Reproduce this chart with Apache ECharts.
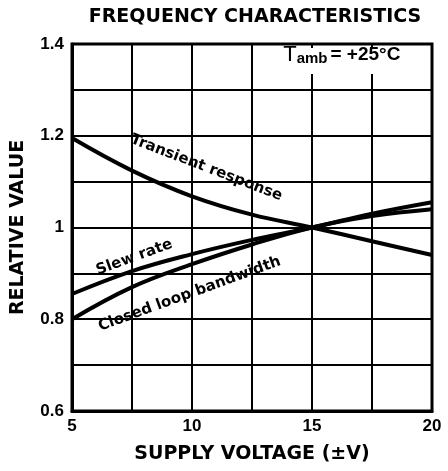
<!DOCTYPE html>
<html><head><meta charset="utf-8">
<script src="https://cdn.jsdelivr.net/npm/echarts@6/dist/echarts.min.js"></script>
<style>html,body{margin:0;padding:0;background:#fff}#c{width:448px;height:471px}</style>
</head><body><div id="c"></div>
<script>
var supplyVoltage = [5, 7.5, 10, 12.5, 15, 17.5, 20];
var transientResponse = [1.195, 1.124, 1.068, 1.028, 1.0, 0.970, 0.940];
var slewRate = [0.855, 0.905, 0.942, 0.973, 1.0, 1.030, 1.055];
var closedLoopBandwidth = [0.800, 0.870, 0.920, 0.963, 1.0, 1.025, 1.040];
var yTicks = [0.6, 0.8, 1.0, 1.2, 1.4];
var xTicks = [5, 10, 15, 20];

function pairs(ys){ return supplyVoltage.map(function(x,i){return [x, ys[i]];}); }
var FF = '"Liberation Sans", Arial, sans-serif';
var FW = '"DejaVu Sans", sans-serif';
var chart = echarts.init(document.getElementById('c'), null, {renderer:'canvas'});
function lineSeries(name, ys){
  return {name:name, type:'line', smooth:0.4, showSymbol:false, data:pairs(ys),
    lineStyle:{color:'#000', width:4}, z:5};
}
chart.setOption({
  animation:false,
  backgroundColor:'#fff',
  title:{text:'FREQUENCY CHARACTERISTICS', left:250, top:3, textAlign:'center',
    textStyle:{fontFamily:FW, fontWeight:'bold', fontSize:19, color:'#000'}},
  grid:{left:72, right:16, top:44, bottom:60, show:true, borderColor:'#000', borderWidth:3, z:20},
  xAxis:{type:'value', min:xTicks[0], max:xTicks[xTicks.length-1], interval:5,
    name:'SUPPLY VOLTAGE (\u00b1V)', nameLocation:'middle', nameGap:34,
    nameTextStyle:{fontFamily:FW, fontWeight:'bold', fontSize:19, color:'#000'},
    axisLine:{lineStyle:{color:'#000', width:3}}, axisTick:{show:false},
    axisLabel:{fontFamily:FF, fontWeight:'bold', fontSize:17, color:'#000', margin:7},
    splitLine:{show:true, lineStyle:{color:'#000', width:2}},
    minorTick:{show:false, splitNumber:2},
    minorSplitLine:{show:true, lineStyle:{color:'#000', width:2}}},
  yAxis:{type:'value', min:yTicks[0], max:yTicks[yTicks.length-1], interval:0.2,
    name:'RELATIVE VALUE', nameLocation:'middle', nameGap:44,
    nameTextStyle:{fontFamily:FW, fontWeight:'bold', fontSize:19, color:'#000'},
    axisLine:{lineStyle:{color:'#000', width:3}}, axisTick:{show:false},
    axisLabel:{fontFamily:FF, fontWeight:'bold', fontSize:17, color:'#000', margin:8,
      formatter:function(v){return String(+v.toFixed(1));}},
    splitLine:{show:true, lineStyle:{color:'#000', width:2}},
    minorTick:{show:false, splitNumber:2},
    minorSplitLine:{show:true, lineStyle:{color:'#000', width:2}}},
  series:[
    lineSeries('Transient response', transientResponse),
    lineSeries('Slew rate', slewRate),
    lineSeries('Closed loop bandwidth', closedLoopBandwidth)
  ]
});
function px(x,y){ return chart.convertToPixel({gridIndex:0}, [x,y]); }
var labelFont = 'bold 15px ' + FW;
var labels = [
  {text:'Transient response', at:[10.6, 1.13], rot:-21},
  {text:'Slew rate', at:[7.6, 0.935], rot:20},
  {text:'Closed loop bandwidth', at:[9.9, 0.855], rot:20}
];
var g = labels.map(function(l){
  var p = px(l.at[0], l.at[1]);
  return {type:'text', x:p[0], y:p[1], rotation:l.rot*Math.PI/180, z:10,
    style:{text:l.text, font:labelFont, fill:'#000', align:'center', verticalAlign:'middle'}};
});
var tp = px(13.8, 1.377);
var tr = px(20, 1.4);
g.push({type:'rect', x:tp[0]-5, y:tr[1]+4, shape:{width:tr[0]-3-(tp[0]-5), height:26}, style:{fill:'#fff'}, z:9});
g.push({type:'text', x:tp[0], y:tp[1], z:10,
  style:{text:'{t|T}{s|amb}{e|= +25\u00b0C}', align:'left', verticalAlign:'middle',
    rich:{t:{font:'22px '+FF, fill:'#000'},
          s:{font:'bold 15px '+FF, fill:'#000', padding:[9,0,0,0]},
          e:{font:'bold 19px '+FF, fill:'#000', padding:[0,0,0,3]}}}});
chart.setOption({graphic:g});
</script></body></html>
